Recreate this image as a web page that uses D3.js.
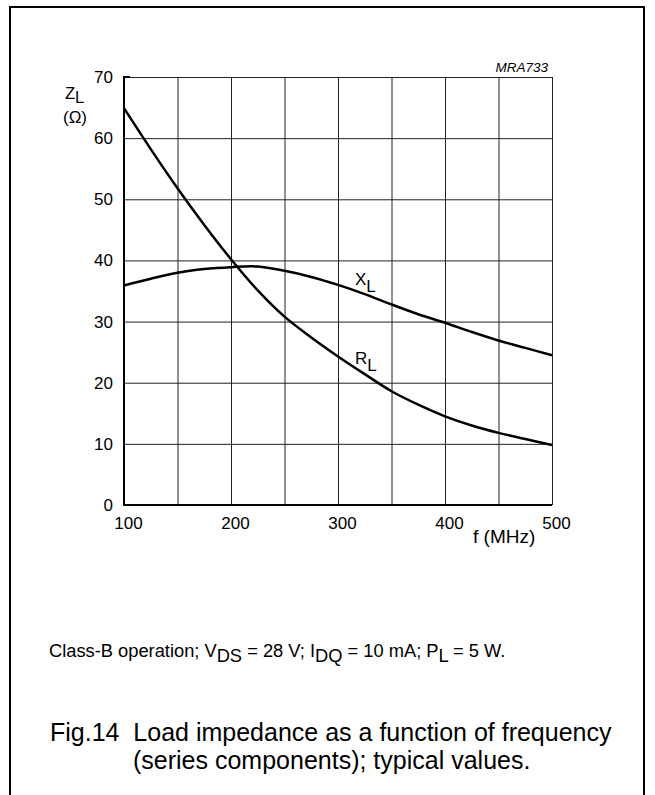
<!DOCTYPE html>
<html>
<head>
<meta charset="utf-8">
<script src="https://cdn.jsdelivr.net/npm/d3@7/dist/d3.min.js"></script>
<style>
  html, body { margin: 0; padding: 0; background: #fff; }
  svg { display: block; }
  text { font-family: "Liberation Sans", Arial, Helvetica, sans-serif; fill: #000; }
</style>
</head>
<body>
<svg id="chart" width="655" height="795"></svg>
<script>
// ---- data ----
const freqs = [100, 125, 150, 175, 200, 225, 250, 275, 300, 325, 350, 375, 400, 425, 450, 475, 500];
const rL = [64.9, 58.2, 51.8, 45.8, 40.2, 35.1, 30.8, 27.4, 24.3, 21.4, 18.6, 16.4, 14.5, 13.0, 11.8, 10.8, 9.8];
const xL = [35.9, 37.0, 38.0, 38.6, 38.9, 39.0, 38.3, 37.3, 36.0, 34.5, 32.8, 31.2, 29.8, 28.3, 26.9, 25.7, 24.5];
const xGridTicks = [100, 150, 200, 250, 300, 350, 400, 450, 500];
const xLabelTicks = [100, 200, 300, 400, 500];
const yTicks = [0, 10, 20, 30, 40, 50, 60, 70];

const svg = d3.select("#chart");

// frame
svg.append("path")
  .attr("d", "M10,800 L10,7 L644,7 L644,800")
  .attr("fill", "none").attr("stroke", "#000").attr("stroke-width", 2);

const x = d3.scaleLinear().domain([100, 500]).range([124, 552]);
const y = d3.scaleLinear().domain([0, 70]).range([505, 77]);

// grid
const gx = svg.append("g").attr("transform", `translate(0,${y(0)})`)
  .call(d3.axisBottom(x).tickValues(xGridTicks).tickSize(-(y(0) - y(70))).tickFormat(""));
gx.select(".domain").remove();
gx.selectAll("line").attr("stroke", "#222").attr("stroke-width", 1);

const gy = svg.append("g").attr("transform", `translate(${x(100)},0)`)
  .call(d3.axisLeft(y).tickValues(yTicks).tickSize(-(x(500) - x(100))).tickFormat(""));
gy.select(".domain").remove();
gy.selectAll("line").attr("stroke", "#222").attr("stroke-width", 1);

// axis lines
svg.append("line").attr("x1", x(100)).attr("x2", x(100)).attr("y1", y(70)).attr("y2", y(0))
  .attr("stroke", "#000").attr("stroke-width", 2);
svg.append("line").attr("x1", x(100) - 1).attr("x2", x(500)).attr("y1", y(0)).attr("y2", y(0))
  .attr("stroke", "#000").attr("stroke-width", 2);
svg.append("line").attr("x1", x(100) - 1).attr("x2", x(100) + 6).attr("y1", y(70)).attr("y2", y(70))
  .attr("stroke", "#000").attr("stroke-width", 2);

// tick labels
const yl = svg.append("g").attr("transform", `translate(${x(100)},0)`)
  .call(d3.axisLeft(y).tickValues(yTicks).tickSize(0).tickPadding(11));
yl.select(".domain").remove();
yl.attr("font-size", 17).attr("font-family", null);
yl.selectAll("text").style("font-size", "17px");

const xlab = svg.append("g").attr("transform", `translate(0,${y(0)})`)
  .call(d3.axisBottom(x).tickValues(xLabelTicks).tickSize(0).tickPadding(12));
xlab.select(".domain").remove();
xlab.attr("font-size", 17).attr("font-family", null);
xlab.selectAll("text").style("font-size", "17px").attr("dx", 4);

// curves
const line = d3.line().x((d, i) => x(freqs[i])).y(d => y(d)).curve(d3.curveCatmullRom.alpha(0.5));
svg.append("path").datum(rL).attr("d", line)
  .attr("fill", "none").attr("stroke", "#000").attr("stroke-width", 2.5);
svg.append("path").datum(xL).attr("d", line)
  .attr("fill", "none").attr("stroke", "#000").attr("stroke-width", 2.5);

// curve labels
function subLabel(px, py, main, sub, size, shift) {
  const t = svg.append("text").attr("x", px).attr("y", py).style("font-size", size + "px");
  t.append("tspan").text(main);
  t.append("tspan").attr("dy", shift).text(sub);
  return t;
}
subLabel(355, 285, "X", "L", 17, 6.5);
subLabel(355, 364, "R", "L", 17, 6.5);

// axis titles
subLabel(65, 99, "Z", "L", 16.5, 4);
svg.append("text").attr("x", 63).attr("y", 123).style("font-size", "17px").text("(Ω)");
svg.append("text").attr("x", 473).attr("y", 543).style("font-size", "19px").text("f (MHz)");

svg.append("text").attr("x", 548).attr("y", 72).attr("text-anchor", "end")
  .style("font-size", "13.5px").style("font-style", "italic").text("MRA733");

// conditions line
const cond = svg.append("text").attr("x", 49).attr("y", 657).style("font-size", "18.3px");
const parts = [["Class-B operation; V", 0], ["DS", 1], [" = 28 V; I", -1], ["DQ", 1], [" = 10 mA; P", -1], ["L", 1], [" = 5 W.", -1]];
parts.forEach(([s, shift]) => {
  const ts = cond.append("tspan").text(s);
  if (shift === 1) ts.attr("dy", 5);
  if (shift === -1) ts.attr("dy", -5);
});

// figure caption
svg.append("text").attr("x", 50).attr("y", 741).style("font-size", "25px")
  .attr("xml:space", "preserve").text("Fig.14  Load impedance as a function of frequency");
svg.append("text").attr("x", 133).attr("y", 769).style("font-size", "25px")
  .text("(series components); typical values.");
</script>
</body>
</html>
